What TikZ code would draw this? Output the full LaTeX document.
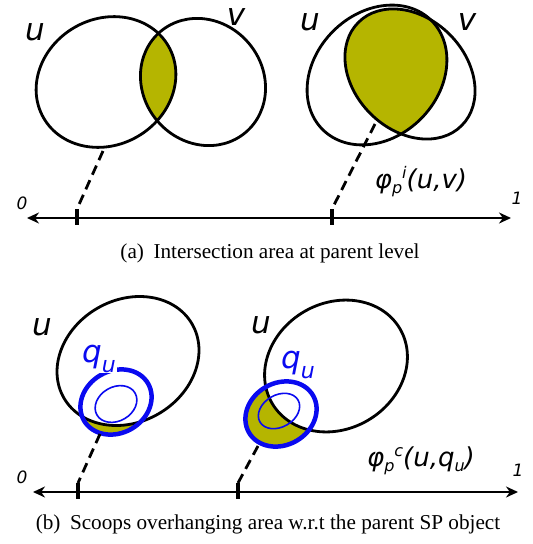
\documentclass[tikz,border=0pt]{standalone}
\usepackage{fontspec}
\setmainfont{Liberation Serif}
\newfontfamily\labfont{DejaVu Sans}
\usetikzlibrary{arrows.meta}
\definecolor{olivefill}{RGB}{181,181,0}
\definecolor{scoopblue}{RGB}{10,10,240}
\newcommand{\fsz}[1]{\fontsize{#1}{#1}\selectfont}
\begin{document}
\begin{tikzpicture}[x=1pt,y=-1pt,
  outline/.style={line width=2.8pt},
  axisline/.style={line width=2.8pt,{Stealth[length=12pt,width=11pt]}-{Stealth[length=12pt,width=11pt]}},
  tickmark/.style={line width=4pt},
  dashline/.style={line width=2.8pt,dash pattern=on 10pt off 6pt},
  biglab/.style={font=\labfont\itshape\fsz{31}, inner sep=0pt, anchor=base},
  endlab/.style={font=\labfont\itshape\fsz{17}, inner sep=0pt},
  philab/.style={font=\labfont\itshape\fsz{26}, inner sep=0pt},
  scoopthick/.style={draw=scoopblue, line width=4.5pt},
  scoopthin/.style={draw=scoopblue, line width=1.6pt},
  caption/.style={font=\fsz{21.2}, inner sep=0pt}]
\useasboundingbox (0,0) rectangle (533,544);
\fill[white] (0,0) rectangle (533,544);

% ---------- panel (a), left ----------
\coordinate (u1c) at (106,82);
\coordinate (v1c) at (203,82);
\begin{scope}
  \clip[rotate around={30:(u1c)}] (u1c) ellipse (72 and 63);
  \fill[olivefill, rotate around={-50:(v1c)}] (v1c) ellipse (66 and 60);
\end{scope}
\draw[outline, rotate around={30:(u1c)}] (u1c) ellipse (72 and 63);
\draw[outline, rotate around={-50:(v1c)}] (v1c) ellipse (66 and 60);
\node[biglab] (lu1) at (35,40) {u};
\node[biglab] (lv1) at (236,25) {v};

% ---------- panel (a), right ----------
\coordinate (u2c) at (377,75);
\coordinate (v2c) at (410,74);
\begin{scope}
  \clip[rotate around={45:(u2c)}] (u2c) ellipse (77 and 62);
  \fill[olivefill, rotate around={-45:(v2c)}] (v2c) ellipse (73 and 56);
\end{scope}
\draw[outline, rotate around={45:(u2c)}] (u2c) ellipse (77 and 62);
\draw[outline, rotate around={-45:(v2c)}] (v2c) ellipse (73 and 56);
\node[biglab] (lu2) at (310,30) {u};
\node[biglab] (lv2) at (467,30) {v};
\node[philab] (phi1) at (421,182) {φ\raisebox{-5pt}{\fsz{16}p}\raisebox{10pt}{\fsz{16}i}(u,v)};

% axis (a)
\coordinate (axA0) at (27,218);
\coordinate (axA1) at (511,218);
\draw[axisline] (axA0) -- (axA1);
\coordinate (tA1t) at (77,209); \coordinate (tA1b) at (77,225);
\coordinate (tA2t) at (332,209); \coordinate (tA2b) at (332,225);
\draw[tickmark] (tA1t) -- (tA1b);
\draw[tickmark] (tA2t) -- (tA2b);
\coordinate (dA1s) at (103,151);
\coordinate (dA2s) at (375,124);
\draw[dashline] (dA1s) -- (tA1t);
\draw[dashline] (dA2s) -- (tA2t);
\node[endlab] (zeroA) at (22,203) {0};
\node[endlab] (oneA) at (517,198) {1};
\node[caption] (capA) at (270,253) {(a)\hspace{0.45em}Intersection area at parent level};

% ---------- panel (b), left ----------
\coordinate (u3c) at (128,361);
\coordinate (s3c) at (116,402);
\coordinate (i3c) at (116,404);
\begin{scope}
  \clip[rotate around={30:(s3c)}] (s3c) ellipse (37 and 31);
  \fill[olivefill, even odd rule] (0,250) rectangle (533,544)
     [rotate around={30:(u3c)}] (u3c) ellipse (74 and 61);
\end{scope}
\draw[outline, rotate around={30:(u3c)}] (u3c) ellipse (74 and 61);
\draw[scoopthick, rotate around={30:(s3c)}] (s3c) ellipse (37 and 31);
\draw[scoopthin, rotate around={30:(i3c)}] (i3c) ellipse (22 and 17);
\node[biglab] (lu3) at (42,335) {u};
\node[biglab, text=scoopblue, fill=white, inner sep=1pt, anchor=base west] (lq3) at (81,362) {q\raisebox{-10pt}{\fsz{22}u}};

% ---------- panel (b), right ----------
\coordinate (u4c) at (336,366);
\coordinate (s4c) at (281,414);
\coordinate (i4c) at (279,411);
\begin{scope}
  \clip[rotate around={30:(s4c)}] (s4c) ellipse (37 and 31);
  \fill[olivefill, even odd rule] (0,250) rectangle (533,544)
     [rotate around={30:(u4c)}] (u4c) ellipse (74 and 63);
\end{scope}
\draw[outline, rotate around={30:(u4c)}] (u4c) ellipse (74 and 63);
\draw[scoopthick, rotate around={30:(s4c)}] (s4c) ellipse (37 and 31);
\draw[scoopthin, rotate around={30:(i4c)}] (i4c) ellipse (22 and 16);
\node[biglab] (lu4) at (261,333) {u};
\node[biglab, text=scoopblue, anchor=base west] (lq4) at (281,368) {q\raisebox{-10pt}{\fsz{22}u}};
\node[philab] (phi2) at (421,461) {φ\raisebox{-5pt}{\fsz{16}p}\raisebox{10pt}{\fsz{16}c}(u,q\raisebox{-5pt}{\fsz{16}u})};

% axis (b)
\coordinate (axB0) at (33,492);
\coordinate (axB1) at (518,492);
\draw[axisline] (axB0) -- (axB1);
\coordinate (tB1t) at (78,483); \coordinate (tB1b) at (78,499);
\coordinate (tB2t) at (238,483); \coordinate (tB2b) at (238,499);
\draw[tickmark] (tB1t) -- (tB1b);
\draw[tickmark] (tB2t) -- (tB2b);
\coordinate (dB1s) at (100,434);
\coordinate (dB2s) at (258,446);
\draw[dashline] (dB1s) -- (tB1t);
\draw[dashline] (dB2s) -- (tB2t);
\node[endlab] (zeroB) at (22,477) {0};
\node[endlab] (oneB) at (518,470) {1};
\node[caption] (capB) at (268,524) {(b)\hspace{0.45em}Scoops overhanging area w.r.t the parent SP object};
\end{tikzpicture}
\end{document}
